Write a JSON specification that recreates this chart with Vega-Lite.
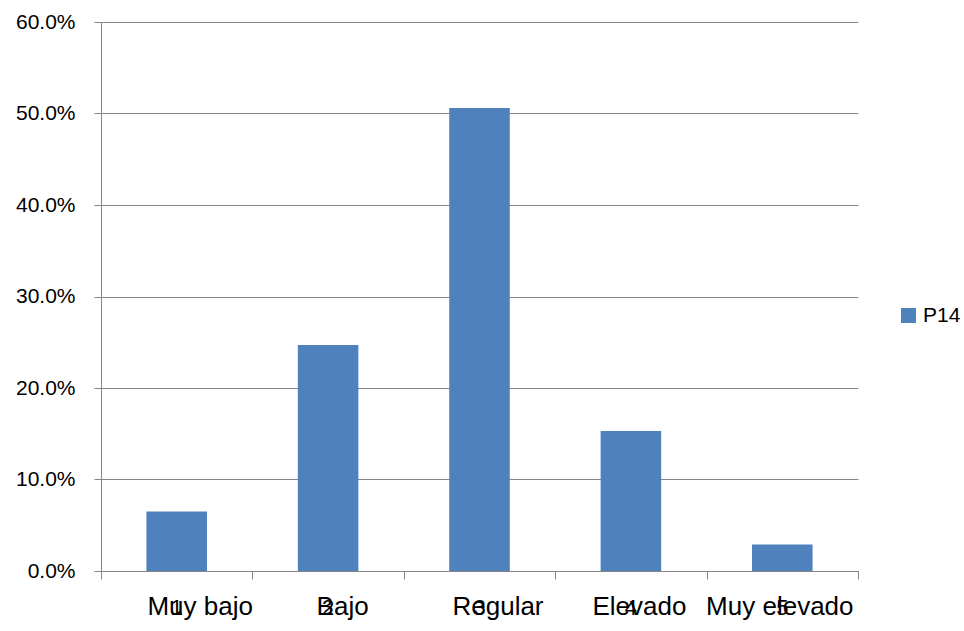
{
  "$schema": "https://vega.github.io/schema/vega-lite/v6.json",
  "width": 757,
  "height": 549,
  "autosize": {"type": "none"},
  "padding": {"left": 101, "top": 22, "right": 106, "bottom": 60},
  "background": "white",
  "config": {
    "view": {"stroke": null},
    "font": "Liberation Sans"
  },
  "data": {
    "values": [
      {"cat": "Muy bajo", "num": "1", "value": 0.065, "serie": "P14"},
      {"cat": "Bajo", "num": "2", "value": 0.247, "serie": "P14"},
      {"cat": "Regular", "num": "3", "value": 0.506, "serie": "P14"},
      {"cat": "Elevado", "num": "4", "value": 0.153, "serie": "P14"},
      {"cat": "Muy elevado", "num": "5", "value": 0.029, "serie": "P14"}
    ]
  },
  "encoding": {
    "x": {
      "field": "cat",
      "type": "nominal",
      "sort": null,
      "scale": {"paddingInner": 0, "paddingOuter": 0},
      "axis": {
        "title": null,
        "labelAngle": 0,
        "labelFontSize": 26,
        "labelColor": "#000000",
        "labelPadding": 14,
        "labelOffset": {"expr": "datum.value == 'Muy bajo' ? 23 : datum.value == 'Bajo' ? 14 : datum.value == 'Regular' ? 18 : datum.value == 'Elevado' ? 8 : -3"},
        "tickBand": "extent",
        "tickSize": 8,
        "tickColor": "#868686",
        "domainColor": "#868686",
        "labelFont": "Liberation Sans"
      }
    }
  },
  "layer": [
    {
      "mark": {"type": "bar", "width": {"band": 0.4}, "color": "#4F81BD"},
      "encoding": {
        "y": {
          "field": "value",
          "type": "quantitative",
          "scale": {"domain": [0, 0.6]},
          "axis": {
            "title": null,
            "format": ".1%",
            "values": [0, 0.1, 0.2, 0.3, 0.4, 0.5, 0.6],
            "labelFontSize": 21,
            "labelColor": "#000000",
            "labelPadding": 19,
            "tickSize": 7,
            "tickColor": "#868686",
            "domainColor": "#868686",
            "gridColor": "#868686",
            "gridOpacity": 1,
            "labelFont": "Liberation Sans"
          }
        },
        "color": {
          "field": "serie",
          "type": "nominal",
          "scale": {"range": ["#4F81BD"]},
          "legend": {
            "title": null,
            "orient": "none",
            "legendX": 797,
            "legendY": 283,
            "symbolType": "square",
            "symbolSize": 225,
            "symbolStrokeWidth": 0,
            "labelFontSize": 21,
            "labelColor": "#000000",
            "labelOffset": 4
          }
        }
      }
    },
    {
      "mark": {"type": "text", "fontSize": 22, "baseline": "alphabetic", "dy": 44, "color": "#000000"},
      "encoding": {
        "y": {"datum": 0, "type": "quantitative"},
        "text": {"field": "num"}
      }
    }
  ]
}
